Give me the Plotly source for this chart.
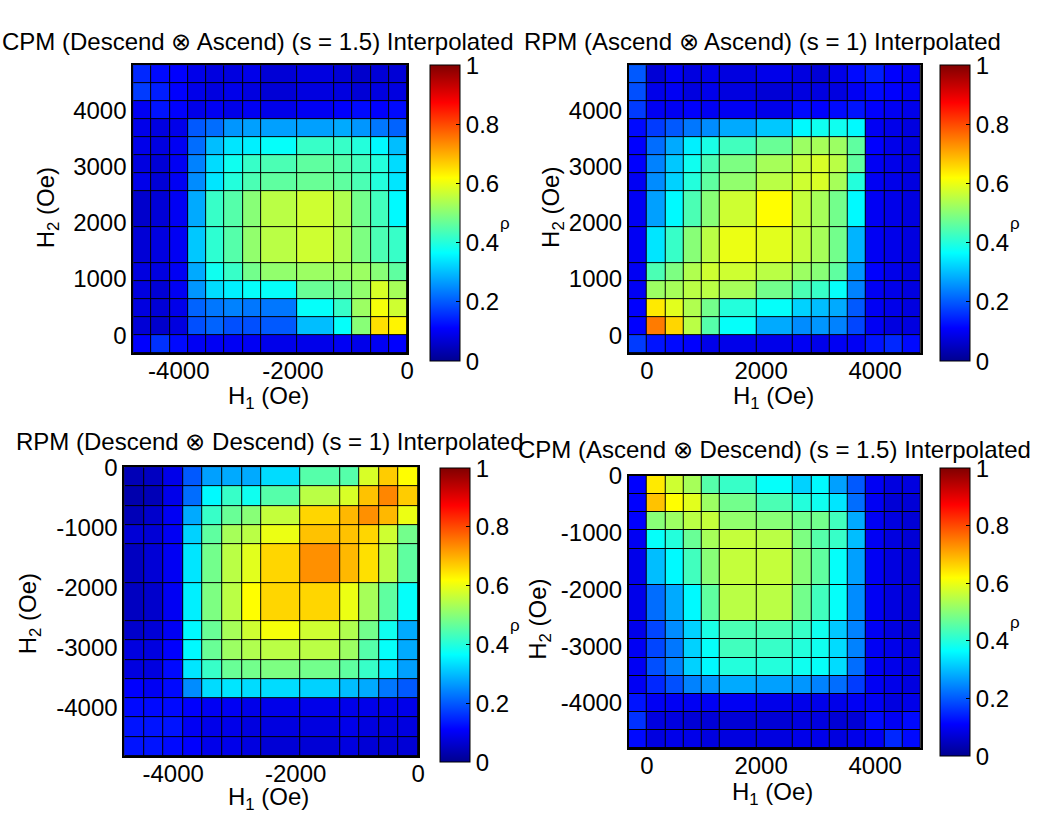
import plotly.graph_objects as go

W, H = 1042, 819

# Field grid (Oe): cell edges of the interpolated H1/H2 maps
ASC_EDGES = [-320, 0, 320, 640, 960, 1280, 1920, 2560, 2880, 3200, 3520, 3840, 4160, 4480, 4800]
DESC_EDGES = [-4800, -4480, -4160, -3840, -3520, -3200, -2880, -2560, -1920, -1280, -960, -640, -320, 0]

# rho values, rows listed from the top row (largest H2) downward, columns by increasing H1
cpm_desc_asc = [
    [0.15, 0.12, 0.11, 0.09, 0.08, 0.08, 0.09, 0.07, 0.08, 0.07, 0.06, 0.07, 0.07],
    [0.17, 0.14, 0.11, 0.09, 0.08, 0.09, 0.08, 0.07, 0.08, 0.08, 0.07, 0.08, 0.08],
    [0.10, 0.13, 0.11, 0.09, 0.10, 0.09, 0.10, 0.09, 0.10, 0.11, 0.12, 0.11, 0.12],
    [0.09, 0.08, 0.09, 0.20, 0.22, 0.26, 0.27, 0.27, 0.27, 0.28, 0.26, 0.23, 0.21],
    [0.09, 0.08, 0.10, 0.22, 0.30, 0.34, 0.35, 0.37, 0.42, 0.42, 0.40, 0.36, 0.30],
    [0.08, 0.07, 0.10, 0.24, 0.33, 0.38, 0.42, 0.44, 0.46, 0.45, 0.43, 0.40, 0.33],
    [0.09, 0.07, 0.10, 0.25, 0.34, 0.40, 0.44, 0.46, 0.47, 0.46, 0.44, 0.40, 0.34],
    [0.06, 0.07, 0.10, 0.28, 0.42, 0.45, 0.50, 0.55, 0.57, 0.54, 0.48, 0.43, 0.36],
    [0.07, 0.08, 0.10, 0.31, 0.41, 0.45, 0.51, 0.55, 0.57, 0.54, 0.49, 0.44, 0.42],
    [0.08, 0.08, 0.10, 0.28, 0.38, 0.42, 0.48, 0.51, 0.52, 0.52, 0.52, 0.50, 0.46],
    [0.08, 0.07, 0.10, 0.26, 0.33, 0.35, 0.37, 0.37, 0.47, 0.48, 0.51, 0.58, 0.53],
    [0.08, 0.07, 0.09, 0.21, 0.23, 0.24, 0.23, 0.23, 0.37, 0.42, 0.52, 0.61, 0.57],
    [0.07, 0.06, 0.08, 0.19, 0.21, 0.19, 0.19, 0.20, 0.30, 0.37, 0.50, 0.65, 0.63],
    [0.11, 0.16, 0.12, 0.10, 0.10, 0.10, 0.10, 0.09, 0.09, 0.10, 0.09, 0.10, 0.11],
]

rpm_asc_asc = [
    [0.20, 0.07, 0.10, 0.08, 0.09, 0.08, 0.09, 0.08, 0.07, 0.09, 0.12, 0.14, 0.11, 0.10],
    [0.19, 0.09, 0.10, 0.08, 0.09, 0.08, 0.07, 0.08, 0.08, 0.08, 0.10, 0.12, 0.11, 0.10],
    [0.17, 0.10, 0.10, 0.11, 0.10, 0.10, 0.09, 0.12, 0.11, 0.12, 0.13, 0.11, 0.10, 0.09],
    [0.12, 0.17, 0.20, 0.23, 0.25, 0.28, 0.31, 0.36, 0.38, 0.38, 0.36, 0.10, 0.09, 0.08],
    [0.11, 0.22, 0.28, 0.35, 0.39, 0.43, 0.47, 0.52, 0.53, 0.52, 0.46, 0.11, 0.09, 0.08],
    [0.11, 0.24, 0.31, 0.38, 0.44, 0.49, 0.53, 0.56, 0.58, 0.55, 0.46, 0.10, 0.09, 0.08],
    [0.10, 0.25, 0.32, 0.40, 0.46, 0.51, 0.55, 0.57, 0.58, 0.53, 0.40, 0.10, 0.09, 0.08],
    [0.10, 0.27, 0.36, 0.44, 0.50, 0.57, 0.62, 0.56, 0.53, 0.48, 0.36, 0.10, 0.09, 0.08],
    [0.10, 0.34, 0.42, 0.50, 0.55, 0.60, 0.59, 0.56, 0.53, 0.48, 0.29, 0.10, 0.09, 0.08],
    [0.10, 0.44, 0.49, 0.54, 0.57, 0.57, 0.55, 0.52, 0.50, 0.46, 0.26, 0.11, 0.09, 0.08],
    [0.10, 0.52, 0.53, 0.55, 0.55, 0.53, 0.48, 0.44, 0.42, 0.37, 0.24, 0.10, 0.09, 0.08],
    [0.11, 0.64, 0.59, 0.54, 0.48, 0.40, 0.37, 0.32, 0.30, 0.28, 0.20, 0.10, 0.09, 0.08],
    [0.11, 0.75, 0.66, 0.55, 0.45, 0.37, 0.28, 0.25, 0.26, 0.24, 0.18, 0.10, 0.08, 0.08],
    [0.17, 0.13, 0.12, 0.11, 0.09, 0.09, 0.09, 0.10, 0.09, 0.10, 0.10, 0.13, 0.15, 0.12],
]

rpm_desc_desc = [
    [0.04, 0.05, 0.09, 0.20, 0.27, 0.28, 0.28, 0.33, 0.45, 0.45, 0.58, 0.67, 0.62],
    [0.03, 0.04, 0.09, 0.22, 0.36, 0.42, 0.38, 0.45, 0.55, 0.58, 0.68, 0.74, 0.67],
    [0.04, 0.06, 0.10, 0.28, 0.42, 0.47, 0.50, 0.56, 0.66, 0.69, 0.73, 0.69, 0.60],
    [0.07, 0.07, 0.10, 0.32, 0.46, 0.53, 0.55, 0.60, 0.68, 0.68, 0.66, 0.57, 0.48],
    [0.05, 0.07, 0.10, 0.34, 0.48, 0.55, 0.59, 0.66, 0.73, 0.69, 0.65, 0.55, 0.46],
    [0.05, 0.06, 0.10, 0.35, 0.49, 0.55, 0.62, 0.66, 0.66, 0.60, 0.53, 0.46, 0.37],
    [0.06, 0.07, 0.10, 0.36, 0.47, 0.53, 0.57, 0.61, 0.57, 0.54, 0.48, 0.38, 0.28],
    [0.08, 0.08, 0.11, 0.36, 0.47, 0.52, 0.54, 0.55, 0.55, 0.52, 0.45, 0.37, 0.28],
    [0.08, 0.08, 0.12, 0.34, 0.42, 0.47, 0.48, 0.49, 0.48, 0.46, 0.42, 0.34, 0.27],
    [0.11, 0.10, 0.12, 0.25, 0.33, 0.34, 0.33, 0.33, 0.32, 0.30, 0.28, 0.23, 0.20],
    [0.12, 0.12, 0.12, 0.11, 0.10, 0.10, 0.09, 0.09, 0.09, 0.09, 0.09, 0.09, 0.09],
    [0.13, 0.13, 0.13, 0.10, 0.09, 0.09, 0.08, 0.08, 0.08, 0.09, 0.08, 0.08, 0.08],
    [0.13, 0.13, 0.12, 0.11, 0.09, 0.09, 0.08, 0.07, 0.07, 0.08, 0.07, 0.07, 0.07],
]

cpm_asc_desc = [
    [0.11, 0.64, 0.57, 0.53, 0.45, 0.42, 0.37, 0.32, 0.36, 0.27, 0.20, 0.10, 0.08, 0.08],
    [0.11, 0.68, 0.62, 0.59, 0.52, 0.48, 0.44, 0.40, 0.38, 0.34, 0.22, 0.10, 0.07, 0.07],
    [0.11, 0.50, 0.52, 0.55, 0.56, 0.51, 0.50, 0.48, 0.48, 0.43, 0.28, 0.10, 0.08, 0.07],
    [0.10, 0.37, 0.40, 0.47, 0.53, 0.56, 0.55, 0.49, 0.45, 0.42, 0.30, 0.10, 0.08, 0.07],
    [0.09, 0.30, 0.36, 0.43, 0.50, 0.56, 0.56, 0.50, 0.46, 0.37, 0.27, 0.10, 0.08, 0.07],
    [0.09, 0.22, 0.28, 0.36, 0.46, 0.55, 0.55, 0.48, 0.43, 0.37, 0.25, 0.10, 0.08, 0.07],
    [0.09, 0.18, 0.25, 0.32, 0.39, 0.44, 0.44, 0.42, 0.38, 0.31, 0.24, 0.10, 0.08, 0.07],
    [0.10, 0.18, 0.23, 0.32, 0.37, 0.43, 0.42, 0.40, 0.38, 0.33, 0.24, 0.10, 0.09, 0.08],
    [0.10, 0.19, 0.24, 0.32, 0.36, 0.40, 0.40, 0.38, 0.37, 0.33, 0.22, 0.10, 0.09, 0.08],
    [0.10, 0.15, 0.19, 0.24, 0.26, 0.28, 0.27, 0.26, 0.24, 0.22, 0.17, 0.10, 0.09, 0.08],
    [0.13, 0.10, 0.10, 0.10, 0.10, 0.10, 0.09, 0.09, 0.09, 0.09, 0.10, 0.10, 0.08, 0.09],
    [0.16, 0.08, 0.08, 0.07, 0.07, 0.07, 0.07, 0.08, 0.08, 0.07, 0.07, 0.12, 0.10, 0.12],
    [0.12, 0.08, 0.09, 0.09, 0.08, 0.08, 0.08, 0.09, 0.09, 0.08, 0.09, 0.10, 0.15, 0.12],
]

TITLES = [
    "CPM (Descend \u2297 Ascend) (s = 1.5) Interpolated",
    "RPM (Ascend \u2297 Ascend) (s = 1) Interpolated",
    "RPM (Descend \u2297 Descend) (s = 1) Interpolated",
    "CPM (Ascend \u2297 Descend) (s = 1.5) Interpolated",
]

POS_TICKS = [0, 2000, 4000]
POS_TICK_TEXT = ["0", "2000", "4000"]
NEG_TICKS = [-4000, -2000, 0]
NEG_TICK_TEXT = ["-4000", "-2000", "0"]
POS_YTICKS = [0, 1000, 2000, 3000, 4000]
POS_YTICK_TEXT = ["0", "1000", "2000", "3000", "4000"]
NEG_YTICKS = [0, -1000, -2000, -3000, -4000]
NEG_YTICK_TEXT = ["0", "-1000", "-2000", "-3000", "-4000"]

CB_TICKS = [0, 0.2, 0.4, 0.6, 0.8, 1]
CB_TEXT = ["0", "0.2", "0.4", "0.6", "0.8", "1"]

# MATLAB-style jet colormap
JET = [
    [0.0, "rgb(0,0,143)"],
    [0.111, "rgb(0,0,255)"],
    [0.365, "rgb(0,255,255)"],
    [0.619, "rgb(255,255,0)"],
    [0.873, "rgb(255,0,0)"],
    [1.0, "rgb(128,0,0)"],
]

FONT = "Liberation Sans, Arial, sans-serif"
FS = 24


def fx(p):
    return p / W


def fy(p):
    return 1 - p / H


# panel layout in pixels: plot box (x0, x1, y0, y1), colorbar (x, ytop, ybottom)
panels = [
    dict(z=cpm_desc_asc, xe=DESC_EDGES, ye=ASC_EDGES, box=(134, 410, 52, 345),
         cb=(433, 52, 348), xt=(NEG_TICKS, NEG_TICK_TEXT), yt=(POS_YTICKS, POS_YTICK_TEXT),
         title=(260, 28), xlab=(270, 390), ylab=(48, 197), rho=(508, 213)),
    dict(z=rpm_asc_asc, xe=ASC_EDGES, ye=ASC_EDGES, box=(633, 927, 52, 345),
         cb=(946, 52, 348), xt=(POS_TICKS, POS_TICK_TEXT), yt=(POS_YTICKS, POS_YTICK_TEXT),
         title=(768, 28), xlab=(779, 390), ylab=(556, 197), rho=(1022, 213)),
    dict(z=rpm_desc_desc, xe=DESC_EDGES, ye=DESC_EDGES, box=(125, 421, 461, 755),
         cb=(443, 462, 756), xt=(NEG_TICKS, NEG_TICK_TEXT), yt=(NEG_YTICKS, NEG_YTICK_TEXT),
         title=(272, 435), xlab=(270, 798), ylab=(30, 610), rho=(518, 622)),
    dict(z=cpm_asc_desc, xe=ASC_EDGES, ye=DESC_EDGES, box=(633, 927, 470, 747),
         cb=(946, 462, 750), xt=(POS_TICKS, POS_TICK_TEXT), yt=(NEG_YTICKS, NEG_YTICK_TEXT),
         title=(780, 443), xlab=(778, 793), ylab=(543, 616), rho=(1022, 619)),
]

fig = go.Figure()
annotations = []
layout_axes = {}

for i, p in enumerate(panels, start=1):
    sfx = "" if i == 1 else str(i)
    x0, x1, y0, y1 = p["box"]
    cbx, cbt, cbb = p["cb"]
    fig.add_trace(go.Heatmap(
        x=p["xe"], y=p["ye"], z=p["z"][::-1],  # rows stored top-down, plotted bottom-up
        zmin=0, zmax=1, colorscale=JET, xgap=1, ygap=1,
        xaxis="x" + sfx, yaxis="y" + sfx,
        colorbar=dict(
            x=fx(cbx), xanchor="left", y=fy(cbt), yanchor="top",
            len=cbb - cbt, lenmode="pixels", thickness=30, thicknessmode="pixels",
            xpad=0, ypad=0, outlinecolor="black", outlinewidth=1,
            tickvals=CB_TICKS, ticktext=CB_TEXT, ticks="inside", ticklen=4,
            tickcolor="black", tickfont=dict(family=FONT, size=FS, color="black"),
        ),
    ))
    layout_axes["xaxis" + sfx] = dict(
        domain=[fx(x0), fx(x1)], range=[p["xe"][0], p["xe"][-1]], anchor="y" + sfx,
        tickvals=p["xt"][0], ticktext=p["xt"][1], ticks="", showgrid=False, zeroline=False,
        showline=True, linecolor="black", linewidth=1.5, mirror=True, ticklabelstandoff=-5,
        tickfont=dict(family=FONT, size=FS, color="black"),
    )
    layout_axes["yaxis" + sfx] = dict(
        domain=[fy(y1), fy(y0)], range=[p["ye"][0], p["ye"][-1]], anchor="x" + sfx,
        tickvals=p["yt"][0], ticktext=p["yt"][1], ticks="", showgrid=False, zeroline=False,
        showline=True, linecolor="black", linewidth=1.5, mirror=True,
        tickfont=dict(family=FONT, size=FS, color="black"),
    )
    tx, ty = p["title"]
    annotations.append(dict(text=TITLES[i - 1], x=fx(tx), y=fy(ty), xref="paper", yref="paper",
                            showarrow=False, xanchor="center", yanchor="middle",
                            font=dict(family=FONT, size=FS, color="black")))
    lx, ly = p["xlab"]
    annotations.append(dict(text="H<sub>1</sub> (Oe)", x=fx(lx), y=fy(ly), xref="paper", yref="paper",
                            showarrow=False, xanchor="center", yanchor="middle",
                            font=dict(family=FONT, size=FS, color="black")))
    vx, vy = p["ylab"]
    annotations.append(dict(text="H<sub>2</sub> (Oe)", x=fx(vx), y=fy(vy), xref="paper", yref="paper",
                            showarrow=False, xanchor="center", yanchor="middle", textangle=-90,
                            font=dict(family=FONT, size=FS, color="black")))
    rx, ry = p["rho"]
    annotations.append(dict(text="\u03c1", x=fx(rx), y=fy(ry), xref="paper", yref="paper",
                            showarrow=False, xanchor="center", yanchor="middle",
                            font=dict(family=FONT, size=17, color="black")))

fig.update_layout(
    width=W, height=H, margin=dict(l=0, r=0, t=0, b=0),
    paper_bgcolor="white", plot_bgcolor="black",
    showlegend=False, annotations=annotations,
    **layout_axes,
)

# page body without the default browser margin so the figure sits at the window origin
fig.write_html("out.html", post_script="document.body.style.margin='0px';")
